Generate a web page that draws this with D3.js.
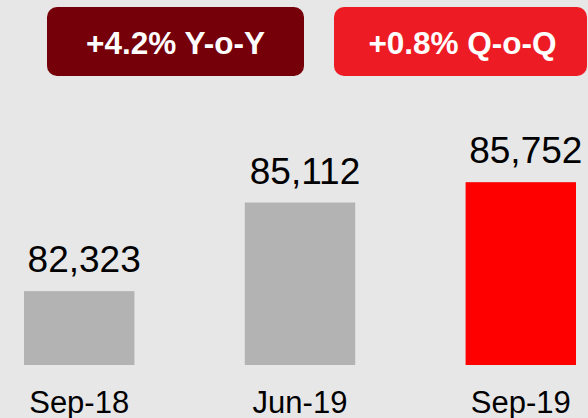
<!DOCTYPE html>
<html>
<head>
<meta charset="utf-8">
<script src="https://cdn.jsdelivr.net/npm/d3@7"></script>
<style>
    body { margin: 0; background: #e7e7e7; }
    svg { display: block; font-family: "Liberation Sans", Arial, sans-serif; }
</style>
</head>
<body>
<div id="chart"></div>
<script>
var categories = ['Sep-18', 'Jun-19', 'Sep-19'];
var values     = [82323, 85112, 85752];
var highlight  = 'Sep-19';
var badge_labels = ['+4.2% Y-o-Y', '+0.8% Q-o-Q'];

var data = categories.map(function(c, i){
    return {cat: c, num: values[i]};
});

var chart_width  = 588;
var chart_height = 418;
var baseline     = 365;

var svg = d3.select('#chart')
    .append('svg')
    .attr('width', chart_width)
    .attr('height', chart_height);

svg.append('rect')
    .attr('width', chart_width)
    .attr('height', chart_height)
    .attr('fill', '#e7e7e7');

// scales
var x_scale = d3.scaleBand()
    .domain(categories)
    .range([24, 576])
    .paddingInner(0.5)
    .paddingOuter(0);

// axis does not start at zero in the original
var y_scale = d3.scaleLinear()
    .domain([80000, 86000])
    .range([baseline, 174.3]);

// badges
var badges = [
    {text: badge_labels[0], x: 47, w: 257, fill: '#760009'},
    {text: badge_labels[1], x: 334, w: 253, fill: '#ed1c24'}
];
var badge_g = svg.selectAll('.badge')
    .data(badges)
    .enter()
    .append('g')
    .attr('class', 'badge');

badge_g.append('rect')
    .attr('x', function(d){ return d.x; })
    .attr('y', 7)
    .attr('width', function(d){ return d.w; })
    .attr('height', 69)
    .attr('rx', 10)
    .attr('fill', function(d){ return d.fill; });

badge_g.append('text')
    .text(function(d){ return d.text; })
    .attr('x', function(d, i){ return d.x + d.w / 2 + (i == 1 ? 2 : 0); })
    .attr('y', 54)
    .attr('font-size', 31.5)
    .attr('font-weight', 'bold')
    .attr('fill', '#fff')
    .attr('text-anchor', 'middle');

// bars
svg.selectAll('.bar')
    .data(data)
    .enter()
    .append('rect')
    .attr('class', 'bar')
    .attr('x', function(d){ return x_scale(d.cat); })
    .attr('y', function(d){ return y_scale(d.num); })
    .attr('width', x_scale.bandwidth())
    .attr('height', function(d){ return baseline - y_scale(d.num); })
    .attr('fill', function(d){ return d.cat == highlight ? '#ff0000' : '#b3b3b3'; });

// value labels
var fmt = d3.format(',');
svg.selectAll('.val')
    .data(data)
    .enter()
    .append('text')
    .attr('class', 'val')
    .text(function(d){ return fmt(d.num); })
    .attr('x', function(d){ return x_scale(d.cat) + x_scale.bandwidth() / 2 + 5; })
    .attr('y', function(d){ return y_scale(d.num) - 19; })
    .attr('font-size', 37)
    .attr('fill', '#000')
    .attr('text-anchor', 'middle');

// category labels
svg.selectAll('.cat')
    .data(data)
    .enter()
    .append('text')
    .attr('class', 'cat')
    .text(function(d){ return d.cat; })
    .attr('x', function(d){ return x_scale(d.cat) + x_scale.bandwidth() / 2; })
    .attr('y', 413)
    .attr('font-size', 31)
    .attr('fill', '#000')
    .attr('text-anchor', 'middle');
</script>
</body>
</html>
